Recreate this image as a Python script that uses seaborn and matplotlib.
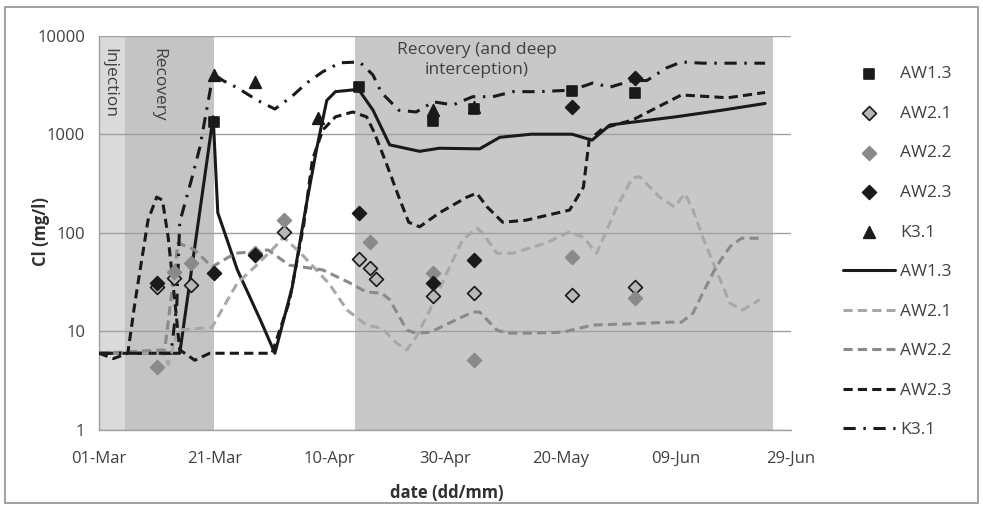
import numpy as np
import pandas as pd
import matplotlib
matplotlib.use("Agg")
import matplotlib.pyplot as plt
import seaborn as sns
from matplotlib.patches import Rectangle

# x values are days after 01-Mar
tick_days = [0, 20, 40, 60, 80, 100, 120]
tick_labels = ["01-Mar", "21-Mar", "10-Apr", "30-Apr", "20-May", "09-Jun", "29-Jun"]
y_ticks = [1, 10, 100, 1000, 10000]

# measured points
aw13_pt_day = [20, 45, 58, 65, 82, 93]
aw13_pt_cl = [1330, 3000, 1350, 1800, 2750, 2630]
aw21_pt_day = [10, 13, 16, 32, 45, 47, 48, 58, 65, 82, 93]
aw21_pt_cl = [28, 35, 29.5, 101, 54, 44, 34, 23, 24.5, 23.4, 28]
aw22_pt_day = [10, 13, 16, 27, 32, 47, 58, 65, 82, 93]
aw22_pt_cl = [4.4, 40, 49, 62, 134, 81, 39, 5.1, 57, 22]
aw23_pt_day = [10, 20, 27, 45, 58, 65, 82, 93]
aw23_pt_cl = [31, 39, 60, 159, 31, 53, 1900, 3720]
k31_pt_day = [20, 27, 38, 58, 65]
k31_pt_cl = [3990, 3380, 1460, 1750, 1900]

# model curves
aw13_day = [0, 14, 19.8, 20.6, 24, 28, 30.5, 33.5, 36, 37.8, 39.5, 41, 45, 47.5, 50.4, 55.6, 59, 66,
            69.5, 75, 82, 85.5, 88.6, 100, 108, 115.5]
aw13_cl = [6, 6, 1500, 160, 42, 13, 6, 28, 200, 740, 2200, 2700, 2850, 1760, 780, 670, 720, 710,
           930, 1000, 1000, 870, 1240, 1500, 1750, 2050]

aw21_day = [0, 11, 12, 13.7, 19.6, 21.3, 24, 27, 30.5, 32, 35, 40, 43, 46.4, 49, 51.6, 53.4, 55, 57.4,
            60.3, 63, 65.5, 66.5, 69, 71.8, 77.6, 81.6, 84, 86.3, 87.3, 89.8, 92.5, 93.8, 97.2, 99.8,
            101.6, 103, 104.7, 107, 109.4, 111.6, 114.6]
aw21_cl = [6, 6, 4.6, 10.3, 11, 16.5, 31, 45, 72, 90, 62, 30, 16.5, 11.6, 10.8, 7.6, 6.5, 8.8, 16.5,
           39, 84, 112, 100, 62, 62, 79, 102, 90, 62, 84, 183, 360, 370, 230, 183,
           250, 170, 90, 42, 19.3, 16.5, 21]

aw22_day = [0, 11.4, 13.7, 16.6, 19.6, 23.6, 26.5, 29.3, 33, 38.8, 43.5, 46.4, 49, 50.4, 53.4, 55,
            57.4, 60.8, 64.8, 66, 69, 70.7, 74.7, 80.4, 85.6, 91.5, 99, 101, 103, 104.7, 107, 109.4,
            111.4, 115]
aw22_cl = [6, 6.5, 79, 67, 45, 62, 64, 67, 47, 42, 31, 25, 24.5, 21, 10.3, 9.6,
           9.8, 12.2, 15.7, 15.7, 10.3, 9.6, 9.6, 9.8, 11.6, 11.9, 12.4, 12.4, 15.3, 24.5, 45, 72,
           88, 88]

aw23_day = [0, 2.5, 5, 6.2, 8.5, 10, 11, 12, 13.2, 14, 16.6, 19.2, 30, 33, 35.5, 37, 38.8, 41, 44,
            46.4, 47.7, 49.8, 52, 53.7, 55.6, 59, 63.8, 65.5, 67.3, 70, 74, 81.6, 84, 85, 87.4, 92.5,
            97, 101, 106, 109, 115.5]
aw23_cl = [6, 5.3, 6, 19, 134, 230, 215, 90, 19, 6.5, 5.1, 6, 6, 20, 120, 550, 1100, 1500, 1680,
           1500, 1050, 510, 230, 128, 115, 159, 230, 252, 183, 128, 134, 170, 290, 870, 1150, 1390,
           1900, 2500, 2400, 2340, 2650]

k31_day = [0, 12.5, 13.5, 14, 16, 17.5, 19.8, 21.5, 24, 27.5, 30.5, 33.4, 36, 38.8, 41.8, 45.2, 47.5,
           49, 52, 55, 58, 61.4, 64.8, 68.3, 71.8, 76.4, 82, 85.6, 88.6, 92.5, 95, 98.4, 101, 104.7,
           108, 112, 115.5]
k31_cl = [6, 6, 19, 128, 340, 740, 4100, 3500, 2950, 2200, 1800, 2400, 3300, 4300, 5300, 5400, 3990,
          2630, 1750, 1680, 2130, 1980, 2400, 2400, 2700, 2700, 2800, 3300, 3000, 3500, 3500, 4700,
          5400, 5250, 5250, 5250, 5250]

# phases (start day, end day)
phase_injection = (0, 4.5)
phase_recovery = (4.5, 20)
phase_recovery2 = (44.4, 116.8)

sns.set_style("white")
plt.rcParams["font.family"] = ["Open Sans", "DejaVu Sans"]

fig = plt.figure(figsize=(9.83, 5.07), dpi=100)
ax = fig.add_axes([0.1007, 0.1519, 0.704, 0.7779])

ax.axvspan(*phase_injection, color="#dadada", lw=0, zorder=0.2)
ax.axvspan(*phase_recovery, color="#c4c4c4", lw=0, zorder=0.2)
ax.axvspan(*phase_recovery2, color="#c8c8c8", lw=0, zorder=0.2)

# lines
line_specs = [
    ("AW1.3", aw13_day, aw13_cl, "#1a1a1a", "-", 2.2),
    ("AW2.1", aw21_day, aw21_cl, "#a8a8a8", (0, (3, 1.7)), 2.2),
    ("AW2.2", aw22_day, aw22_cl, "#8a8a8a", (0, (3, 1.7)), 2.2),
    ("AW2.3", aw23_day, aw23_cl, "#1a1a1a", (0, (3, 1.7)), 2.2),
    ("K3.1", k31_day, k31_cl, "#1a1a1a", (0, (4, 2.5, 0.8, 2.5)), 2.2),
]
line_handles = []
for name, d, c, col, ls, lw in line_specs:
    sns.lineplot(x=d, y=c, ax=ax, color=col, linestyle=ls, linewidth=lw,
                 sort=False, estimator=None, zorder=3)
    line_handles.append(ax.lines[-1])

# points
pt_specs = [
    ("AW1.3", aw13_pt_day, aw13_pt_cl, "s", "#1a1a1a", "#1a1a1a", 55),
    ("AW2.1", aw21_pt_day, aw21_pt_cl, "D", "#b8b8b8", "#1a1a1a", 50),
    ("AW2.2", aw22_pt_day, aw22_pt_cl, "D", "#8a8a8a", "#8a8a8a", 50),
    ("AW2.3", aw23_pt_day, aw23_pt_cl, "D", "#1a1a1a", "#1a1a1a", 50),
    ("K3.1", k31_pt_day, k31_pt_cl, "^", "#1a1a1a", "#1a1a1a", 70),
]
pt_handles = []
for name, d, c, m, fc, ec, s in pt_specs:
    sns.scatterplot(x=d, y=c, ax=ax, marker=m, color=fc, edgecolor=ec, linewidth=1.2,
                    s=s, zorder=4)
    pt_handles.append(ax.collections[-1])

ax.set_yscale("log")
ax.set_ylim(1, 10000)
ax.set_xlim(0, 120)
ax.set_yticks(y_ticks)
ax.set_yticklabels([str(v) for v in y_ticks])
ax.minorticks_off()
ax.set_xticks(tick_days)
ax.set_xticklabels(tick_labels)
ax.tick_params(axis="both", labelsize=12, colors="#404040", length=6, width=1,
               direction="out", pad=4)
ax.tick_params(axis="x", pad=9)
for t in ax.get_xticklines() + ax.get_yticklines():
    t.set_color("#a0a0a0")

ax.grid(axis="y", color="#a0a0a0", lw=1)
ax.set_axisbelow(True)
for side in ["top", "right"]:
    ax.spines[side].set_visible(False)
for side in ["left", "bottom"]:
    ax.spines[side].set_color("#a0a0a0")
    ax.spines[side].set_linewidth(1)

ax.set_xlabel("date (dd/mm)", fontsize=12, fontweight="bold", color="#303030")
ax.set_ylabel("Cl (mg/l)", fontsize=12, fontweight="bold", color="#303030")
ax.xaxis.set_label_coords(0.502, -0.137)
ax.yaxis.set_label_coords(-0.071, 0.502)

txt_kw = dict(fontsize=12.5, color="#404040", va="top", ha="center")
ax.text(1.7, 7400, "Injection", rotation=270, **txt_kw)
ax.text(10.2, 7400, "Recovery", rotation=270, **txt_kw)
ax.text(65.5, 8600, "Recovery (and deep\ninterception)", linespacing=1.3, **txt_kw)

leg = ax.legend(pt_handles + line_handles,
                [s[0] for s in pt_specs] + [s[0] for s in line_specs],
                loc="upper left", bbox_to_anchor=(843 / 983, 1 - 66 / 507),
                bbox_transform=fig.transFigure, frameon=False, fontsize=12.5,
                handlelength=3.0, handletextpad=0.3, labelspacing=1.35,
                borderpad=0, borderaxespad=0, scatterpoints=1)
for t in leg.get_texts():
    t.set_color("#404040")

fig.patches.append(Rectangle((5 / 983, 4 / 507), 973 / 983, 496 / 507, transform=fig.transFigure,
                             fill=False, edgecolor="#909090", lw=1.2))

fig.savefig("out.png", dpi=100)
